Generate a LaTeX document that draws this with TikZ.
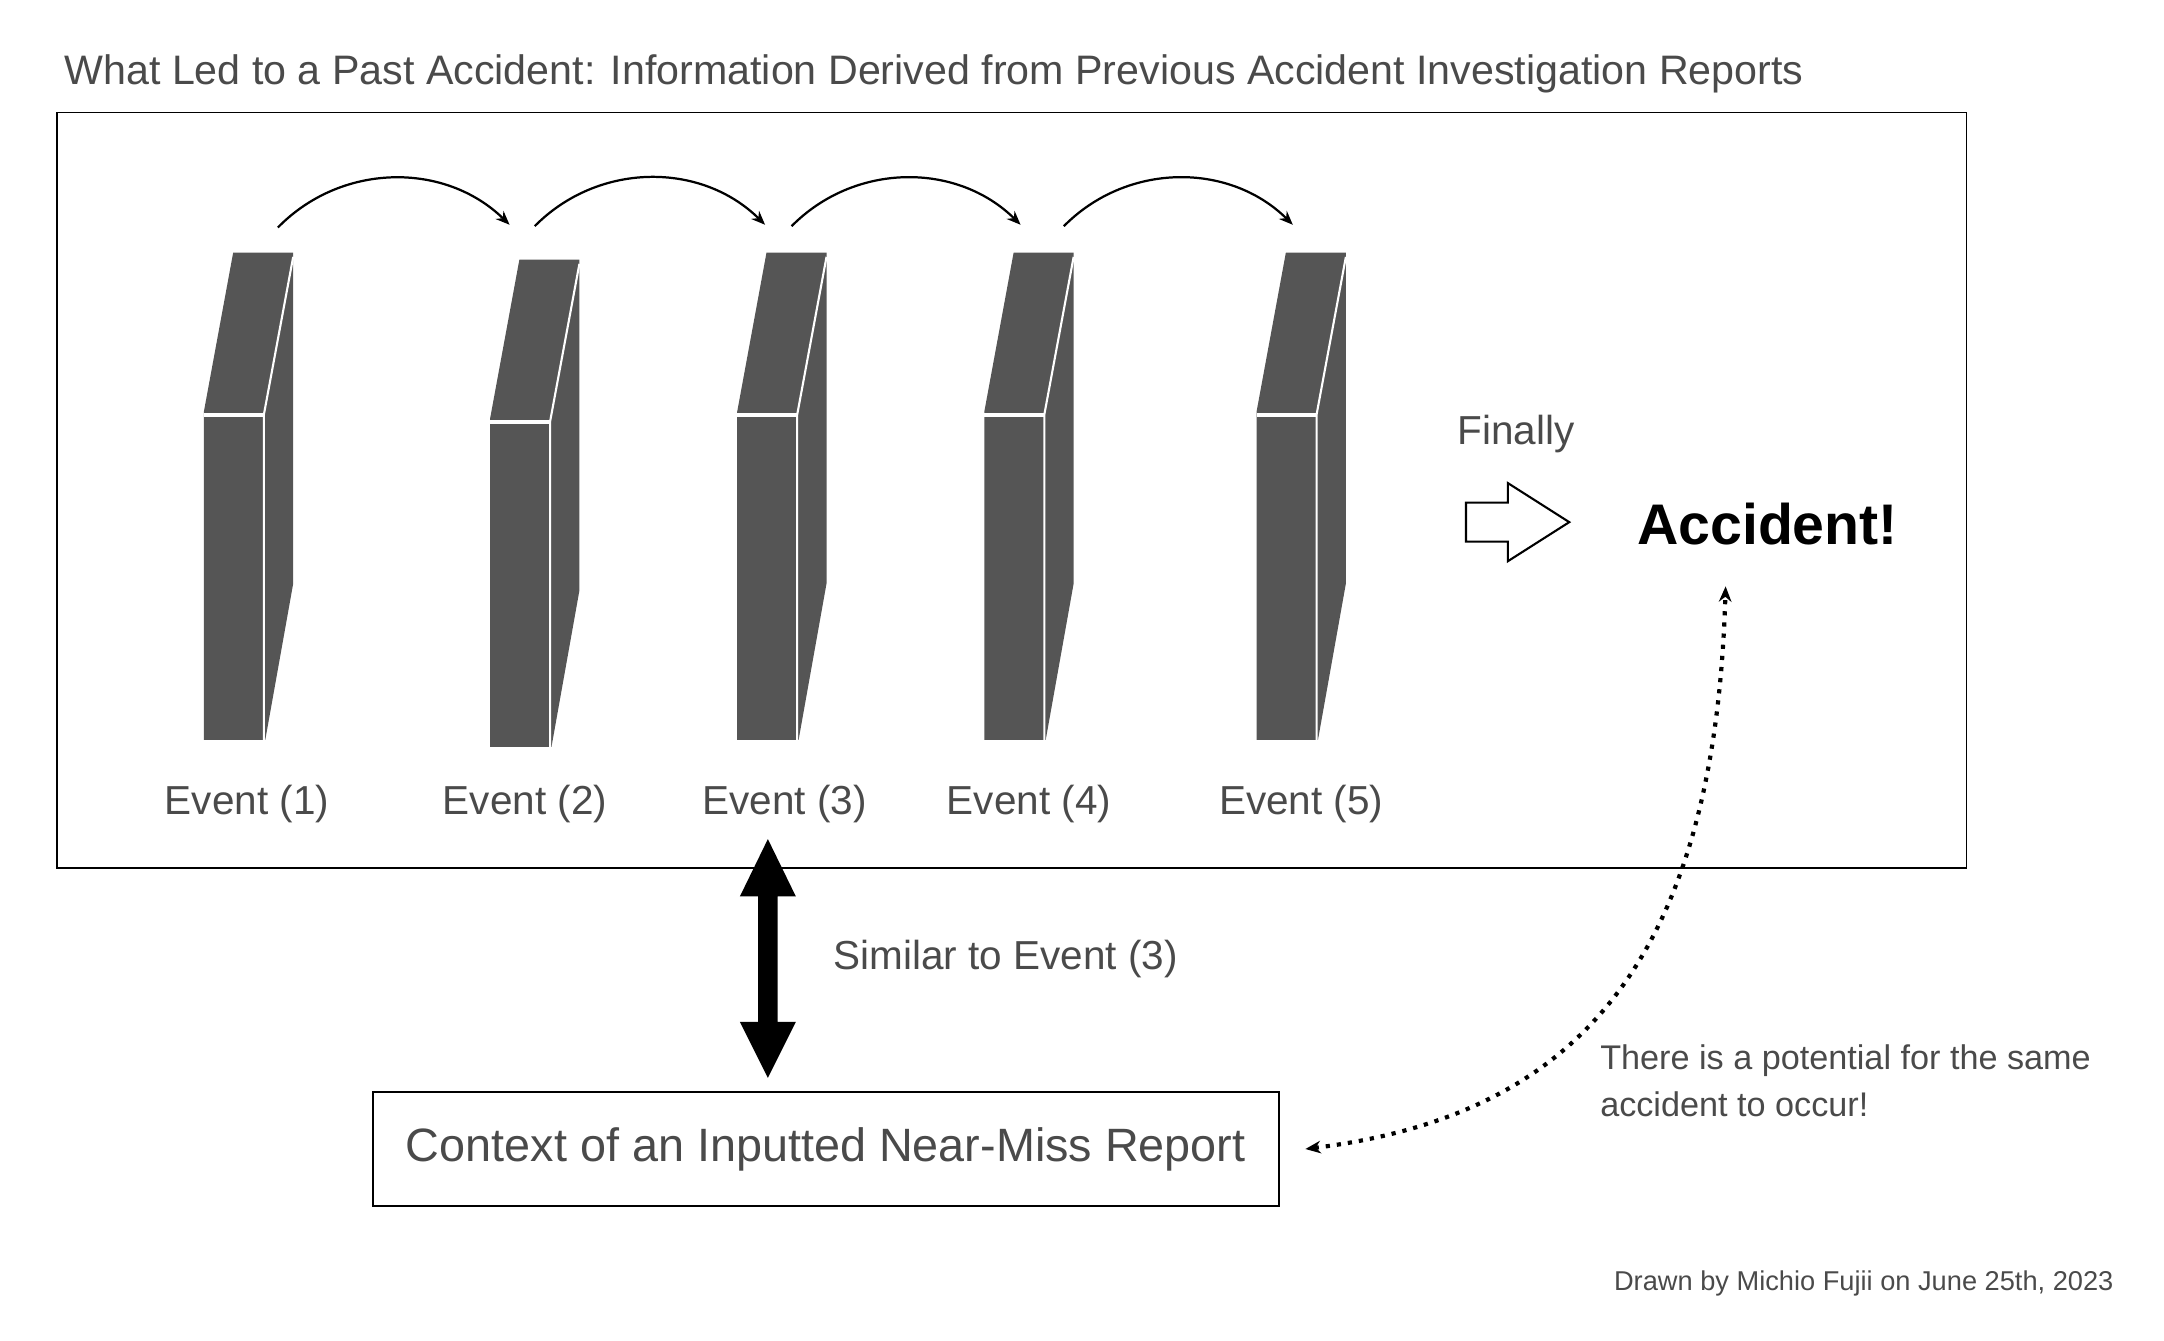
\documentclass[tikz,border=0pt]{standalone}
\usepackage{fontspec}
\setmainfont{Liberation Sans}
\usetikzlibrary{arrows.meta}
\definecolor{dom}{HTML}{555555}
\definecolor{txt}{HTML}{4A4A4A}
\tikzset{
  lbl/.style={text=txt,font=\fontsize{29}{33}\selectfont,inner sep=0pt},
  arc/.style={-{Stealth[length=10pt,width=8pt]},line width=1.6pt,bend left=45},
}
\newcommand{\domino}[3]{% x, ytop, name
  \fill[dom] (#1,#2+349) -- (#1,#2+114) -- (#1+21,#2) -- (#1+64,#2) -- (#1+64,#2+237) -- (#1+44,#2+349) -- cycle;
  \draw[white,line width=3pt] (#1,#2+116) -- (#1+43,#2+116);
  \draw[white,line width=1.5pt] (#1+43,#2+349) -- (#1+43,#2+116) -- (#1+64,#2+3);
  \coordinate (#3) at (#1+21,#2);
}
\begin{document}
\begin{tikzpicture}[x=1pt,y=-1pt]
\useasboundingbox (0,0) rectangle (1550,960);
\node[lbl,anchor=west,font=\fontsize{29.5}{33}\selectfont] (title) at (46,53) {What Led to a Past Accident: Information Derived from Previous Accident Investigation Reports};
\node[draw,line width=1.2pt,minimum width=1368pt,minimum height=541pt,anchor=north west,inner sep=0pt] (frame) at (40,80) {};
\domino{146}{181}{d1}
\domino{351}{186}{d2}
\domino{528}{181}{d3}
\domino{705}{181}{d4}
\domino{900}{181}{d5}
\coordinate (a1s) at (199,163); \coordinate (a1e) at (365,161);
\coordinate (a2s) at (383,162); \coordinate (a2e) at (548,161);
\coordinate (a3s) at (567,162); \coordinate (a3e) at (731,161);
\coordinate (a4s) at (762,162); \coordinate (a4e) at (926,161);
\draw[arc] (a1s) to (a1e);
\draw[arc] (a2s) to (a2e);
\draw[arc] (a3s) to (a3e);
\draw[arc] (a4s) to (a4e);
\node[lbl] (e1) at (177,576) {Event (1)};
\node[lbl] (e2) at (376,576) {Event (2)};
\node[lbl] (e3) at (562,576) {Event (3)};
\node[lbl] (e4) at (737,576) {Event (4)};
\node[lbl] (e5) at (932,576) {Event (5)};
\node[lbl] (fin) at (1086,311) {Finally};
\draw[line width=1.5pt,fill=white] (1050,360) -- (1080,360) -- (1080,346) -- (1124,374) -- (1080,402) -- (1080,388) -- (1050,388) -- cycle;
\node[inner sep=0pt,font=\bfseries\fontsize{41}{46}\selectfont] (acc) at (1266,375) {Accident!};
\fill (550,601) -- (570,642) -- (557,642) -- (557,732) -- (570,732) -- (550,772) -- (530,732) -- (543,732) -- (543,642) -- (530,642) -- cycle;
\node[lbl,anchor=west] (sim) at (597,687) {Similar to Event (3)};
\node[draw,line width=1.2pt,minimum width=649pt,minimum height=82pt,text=txt,font=\fontsize{33.5}{38}\selectfont] (ctx) at (591.5,823) {Context of an Inputted Near-Miss Report};
\coordinate (p1) at (1236,420);
\coordinate (p2) at (935,823);
\draw[line width=3pt,dash pattern=on 3pt off 5pt,{Stealth[length=11pt,width=9pt]}-{Stealth[length=11pt,width=9pt]}] (p2) .. controls (1120,800) and (1228,700) .. (p1);
\node[text=txt,font=\fontsize{24.5}{34}\selectfont,anchor=north west,align=left,inner sep=0pt] (pot) at (1146,748) {There is a potential for the same\\accident to occur!};
\node[text=txt,font=\fontsize{19.5}{22}\selectfont,anchor=east,inner sep=0pt] (drawn) at (1514,919) {Drawn by Michio Fujii on June 25th, 2023};
\end{tikzpicture}
\end{document}
